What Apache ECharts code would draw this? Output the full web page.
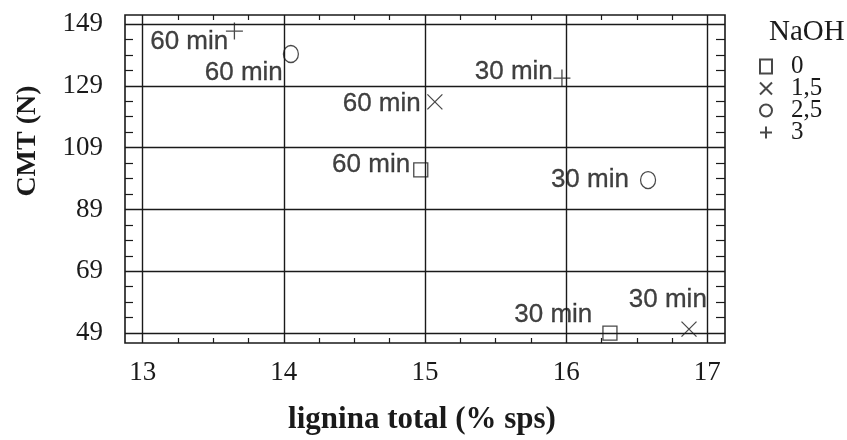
<!DOCTYPE html>
<html>
<head>
<meta charset="utf-8">
<script src="https://cdn.jsdelivr.net/npm/echarts@6/dist/echarts.min.js"></script>
<style>
  html, body { margin: 0; padding: 0; background: #fff; }
  #chart { width: 847px; height: 440px; }
</style>
</head>
<body>
<div id="chart"></div>
<script>
// Tick labels
const xTicks = [13, 14, 15, 16, 17];
const yTicks = [49, 69, 89, 109, 129, 149];

// NaOH levels (legend) and cooking times (point labels)
const naohLevels = ['0', '1,5', '2,5', '3'];
const times = ['30 min', '60 min'];

// Total lignin (% sps) and CMT (N), ordered [30 min, 60 min]
const lignin0 = [16.31, 14.97];
const cmt0 = [49.0, 101.8];
const lignin15 = [16.87, 15.07];
const cmt15 = [50.3, 123.8];
const lignin25 = [16.58, 14.05];
const cmt25 = [98.5, 139.3];
const lignin3 = [15.97, 13.65];
const cmt3 = [131.5, 146.7];

// ---- presentation ----
const ink = '#1a1a1a';
const serif = 'Liberation Serif';
const sans = 'Liberation Sans';

// label placement (pixel offsets from the left edge of each marker)
const labelOffsets = [
  [[-10, -18], [-3, -5]],
  [[26, -29], [-6, 2]],
  [[-11, 0], [0, 19]],
  [[0, -6], [3, 11]]
];

const markerStyles = [
  { symbol: 'rect', symbolSize: [14, 14] },
  { symbol: 'path://M0,0L10,10M10,0L0,10', symbolSize: 15 },
  { symbol: 'circle', symbolSize: [15, 17] },
  { symbol: 'path://M5,0L5,10M0,5L10,5', symbolSize: 17 }
];

const seriesX = [lignin0, lignin15, lignin25, lignin3];
const seriesY = [cmt0, cmt15, cmt25, cmt3];

// minor ticks: quarters between major ticks on both axes
const xMinor = [];
for (let i = 0; i < xTicks.length - 1; i++) {
  for (let k = 1; k < 4; k++) xMinor.push(xTicks[i] + k * (xTicks[i + 1] - xTicks[i]) / 4);
}
const yMinor = [];
for (let i = 0; i < yTicks.length - 1; i++) {
  for (let k = 1; k < 4; k++) yMinor.push(yTicks[i] + k * (yTicks[i + 1] - yTicks[i]) / 4);
}

const xRange = { min: 12.875, max: 17.125 };
const yRange = { min: 45.8, max: 151.9 };

function minorAxis(position, values, len) {
  return Object.assign({
    type: 'value',
    position: position,
    axisLine: { show: false },
    axisLabel: { show: false },
    splitLine: { show: false },
    axisTick: {
      show: true, inside: true, length: len, customValues: values,
      lineStyle: { color: ink, width: 1.2 }
    }
  }, position === 'top' || position === 'bottom' ? xRange : yRange);
}

const series = naohLevels.map((name, s) => ({
  name: name,
  type: 'scatter',
  xAxisIndex: 0,
  yAxisIndex: 0,
  symbol: markerStyles[s].symbol,
  symbolSize: markerStyles[s].symbolSize,
  itemStyle: { color: 'rgba(0,0,0,0)', borderColor: ink, borderWidth: 1.3 },
  label: {
    show: true,
    position: 'left',
    distance: 0,
    formatter: p => times[p.dataIndex],
    fontFamily: sans,
    fontSize: 26,
    color: '#111',
    textBorderColor: '#111',
    textBorderWidth: 0.3
  },
  emphasis: { disabled: true },
  data: seriesX[s].map((x, i) => ({
    value: [x, seriesY[s][i]],
    label: { offset: labelOffsets[s][i] }
  }))
}));

const chart = echarts.init(document.getElementById('chart'), null, { renderer: 'canvas' });
chart.setOption({
  animation: false,
  backgroundColor: '#fff',
  title: {
    text: 'NaOH',
    left: 764,
    top: 13,
    textStyle: { fontFamily: serif, fontSize: 29, fontWeight: 'normal', color: ink }
  },
  legend: {
    data: naohLevels,
    orient: 'vertical',
    left: 754,
    top: 49,
    itemWidth: 12,
    itemHeight: 14,
    itemGap: -3,
    selectedMode: false,
    textStyle: {
      fontFamily: serif, fontSize: 25, color: ink,
      lineHeight: 21, padding: [0, 0, 0, 14]
    }
  },
  grid: {
    left: 125, right: 122, top: 15, bottom: 97,
    show: true, borderColor: ink, borderWidth: 1.6,
    containLabel: false
  },
  xAxis: [
    Object.assign({
      type: 'value',
      position: 'bottom',
      name: 'lignina total (% sps)',
      nameLocation: 'middle',
      nameGap: 61,
      nameTextStyle: {
        fontFamily: serif, fontSize: 31, fontWeight: 'bold', color: ink,
        padding: [0, 6, 0, 0]
      },
      axisLine: { show: false },
      axisTick: { show: false, customValues: xTicks },
      axisLabel: {
        customValues: xTicks, margin: 16,
        fontFamily: serif, fontSize: 27, color: ink
      },
      splitLine: { show: true, lineStyle: { color: ink, width: 1.4 } }
    }, xRange),
    minorAxis('bottom', xMinor, 5),
    minorAxis('top', xMinor, 5)
  ],
  yAxis: [
    Object.assign({
      type: 'value',
      position: 'left',
      name: 'CMT (N)',
      nameLocation: 'middle',
      nameGap: 83,
      nameTextStyle: {
        fontFamily: serif, fontSize: 28, fontWeight: 'bold', color: ink,
        padding: [0, 0, 0, 76]
      },
      axisLine: { show: false },
      axisTick: { show: false, customValues: yTicks },
      axisLabel: {
        customValues: yTicks, margin: 22,
        fontFamily: serif, fontSize: 27, color: ink
      },
      splitLine: { show: true, lineStyle: { color: ink, width: 1.4 } }
    }, yRange),
    minorAxis('left', yMinor, 8),
    minorAxis('right', yMinor, 9)
  ],
  series: series
});
</script>
</body>
</html>
